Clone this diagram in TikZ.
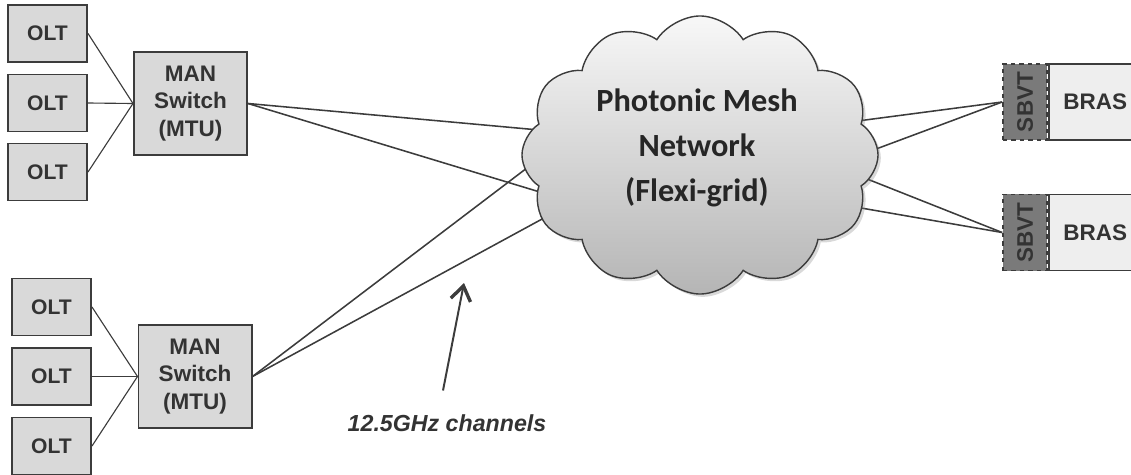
\documentclass[tikz,border=0pt]{standalone}
\usepackage{fontspec}
\setmainfont{Liberation Sans}
\newfontfamily\cloudfont{Carlito}
\usepackage{tikz}
\usetikzlibrary{positioning,calc,shapes.symbols,shadows,arrows.meta}

\definecolor{boxgray}{HTML}{D9D9D9}
\definecolor{edgegray}{HTML}{3C3C3C}
\definecolor{txtgray}{HTML}{333333}
\definecolor{sbvtgray}{HTML}{7A7A7A}
\definecolor{brasgray}{HTML}{EEEEEE}

\tikzset{
    olt/.style={draw=edgegray, line width=1.4pt, fill=boxgray, text=txtgray,
        minimum width=1.975cm, minimum height=1.425cm,
        font=\bfseries\fontsize{15}{18}\selectfont},
    man/.style={draw=edgegray, line width=1.4pt, fill=boxgray, text=txtgray,
        minimum width=2.825cm, minimum height=2.575cm, align=center,
        font=\bfseries\fontsize{16}{19.5}\selectfont},
    sbvt/.style={draw=edgegray, dashed, line width=1.2pt, fill=sbvtgray, text=txtgray,
        minimum width=1.1cm, minimum height=1.9cm, inner sep=0pt,
        font=\bfseries\fontsize{16}{19}\selectfont},
    bras/.style={draw=edgegray, line width=1.2pt, fill=brasgray, text=txtgray,
        minimum width=2.325cm, minimum height=1.9cm, inner sep=0pt,
        font=\bfseries\fontsize{16}{19}\selectfont},
    link/.style={draw=edgegray, line width=1.1pt},
}

\begin{document}
\begin{tikzpicture}[x=0.025cm, y=-0.025cm]

    \useasboundingbox (0,0) rectangle (1131,474);
    \clip (0,0) rectangle (1131,474);

    % metro switches
    \node[man] (mana) at (190.5,103.5) {MAN\\Switch\\(MTU)};
    \node[man] (manb) at (195,376.5) {MAN\\Switch\\(MTU)};

    % access side
    \foreach \y [count=\i] in {33.5,103,172} {
        \node[olt] (ota\i) at (47.5,\y) {OLT};
        \path[draw=edgegray, line width=0.8pt] (ota\i.east) -- (mana.west);
    }
    \foreach \y [count=\i] in {307,376.5,446} {
        \node[olt] (otb\i) at (51.5,\y) {OLT};
        \path[draw=edgegray, line width=0.8pt] (otb\i.east) -- (manb.west);
    }

    % BRAS side
    \node[sbvt] (sva) at (1025,102) {\rotatebox{90}{SBVT}};
    \node[bras, right=0pt of sva] (bra) {BRAS};
    \node[sbvt] (svb) at (1025,232.5) {\rotatebox{90}{SBVT}};
    \node[bras, right=0pt of svb] (brb) {BRAS};

    % channel ends inside the cloud
    \coordinate (ca1) at (550,131);
    \coordinate (ca2) at (553,196);
    \coordinate (cb1) at (548,152);
    \coordinate (cb2) at (555,212);
    \coordinate (cr1) at (850,122);
    \coordinate (cr2) at (860,155);
    \coordinate (cr3) at (852,173);
    \coordinate (cr4) at (815,200);

    \path[link] (mana.east) -- (ca1);
    \path[link] (mana.east) -- (ca2);
    \path[link] (manb.east) -- (cb1);
    \path[link] (manb.east) -- (cb2);
    \path[link] (sva.west) -- (cr1);
    \path[link] (sva.west) -- (cr2);
    \path[link] (svb.west) -- (cr3);
    \path[link] (svb.west) -- (cr4);

    % the mesh
    \node[cloud, cloud puffs=12, cloud puff arc=115, aspect=1.4,
          minimum width=8.9cm, minimum height=6.95cm,
          draw=edgegray, line width=1pt,
          top color=gray!6, bottom color=gray!58,
          drop shadow={opacity=0.3, shadow xshift=0.07cm, shadow yshift=-0.07cm}]
          (mesh) at (700,155) {};
    \node[align=center, text=black!85,
          font=\cloudfont\bfseries\fontsize{23}{32}\selectfont]
          (meshtxt) at (697,148) {Photonic Mesh\\Network\\(Flexi-grid)};

    % channel annotation
    \node[text=txtgray, font=\bfseries\itshape\fontsize{16.5}{20}\selectfont]
          (chlbl) at (447,423) {12.5GHz channels};
    \coordinate (chtip) at (464,283);
    \path[draw=edgegray, line width=1.4pt, -{Straight Barb[length=3.6mm, width=5mm, line width=2.4pt]}]
          ($(chlbl.north)+(-4,-19)$) -- (chtip);

\end{tikzpicture}
\end{document}
